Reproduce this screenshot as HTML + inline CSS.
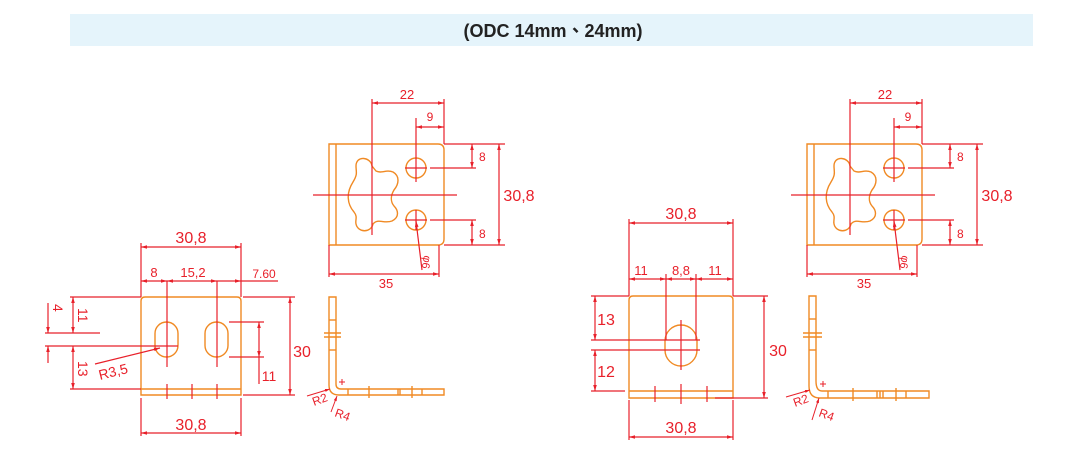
<!DOCTYPE html>
<html><head><meta charset="utf-8"><style>
html,body{margin:0;padding:0;background:#fff;}
svg{display:block}
</style></head><body>
<svg width="1066" height="463" viewBox="0 0 1066 463" xmlns="http://www.w3.org/2000/svg" font-family="Liberation Sans, sans-serif">
<defs>
<marker id="a" viewBox="0 0 10 10" refX="10" refY="5" markerWidth="7" markerHeight="5" orient="auto-start-reverse"><path d="M0,2 L10,5 L0,8z" fill="#e8202a"/></marker>
</defs>
<rect x="70" y="14" width="963" height="32" fill="#e5f4fb"/>
<text x="553" y="37" text-anchor="middle" font-size="18" font-weight="bold" fill="#222" font-family="Liberation Sans, Noto Sans CJK TC, sans-serif">(ODC 14mm、24mm)</text>

<!-- ===== LEFT FRONT VIEW ===== -->
<g fill="none" stroke-width="1.2">
<g stroke="#f08a24" stroke-width="1.4">
<path d="M145,297 H237 Q241,297 241,301 V395 H141 V301 Q141,297 145,297Z"/>
<line x1="141" y1="389" x2="241" y2="389"/>
<rect x="155" y="322" width="23" height="35" rx="11.5"/>
<rect x="205" y="322" width="23" height="35" rx="11.5"/>
</g>
<g stroke="#e8202a">
<line x1="167" y1="281" x2="167" y2="312"/><line x1="217" y1="281" x2="217" y2="312"/>
<line x1="167" y1="312" x2="167" y2="367"/><line x1="217" y1="312" x2="217" y2="367"/>
<line x1="167" y1="384" x2="167" y2="399"/><line x1="192" y1="384" x2="192" y2="399"/><line x1="217" y1="384" x2="217" y2="399"/>
<line x1="141" y1="243" x2="141" y2="297"/><line x1="241" y1="243" x2="241" y2="297"/>
<line x1="141" y1="247" x2="241" y2="247" marker-start="url(#a)" marker-end="url(#a)"/>
<line x1="141" y1="281" x2="167" y2="281" marker-start="url(#a)" marker-end="url(#a)"/>
<line x1="167" y1="281" x2="217" y2="281" marker-start="url(#a)" marker-end="url(#a)"/>
<line x1="217" y1="281" x2="241" y2="281" marker-end="url(#a)"/>
<line x1="241" y1="281" x2="278" y2="281"/>
<line x1="45" y1="333" x2="100" y2="333"/><line x1="45" y1="346" x2="178" y2="346"/>
<line x1="70" y1="297" x2="141" y2="297"/><line x1="70" y1="389" x2="141" y2="389"/>
<line x1="48" y1="303" x2="48" y2="333" marker-end="url(#a)"/>
<line x1="48" y1="363" x2="48" y2="346" marker-end="url(#a)"/>
<line x1="73" y1="297" x2="73" y2="333" marker-start="url(#a)" marker-end="url(#a)"/>
<line x1="73" y1="346" x2="73" y2="389" marker-start="url(#a)" marker-end="url(#a)"/>
<line x1="95" y1="364" x2="160" y2="348" marker-end="url(#a)"/>
<line x1="229" y1="322" x2="264" y2="322"/><line x1="229" y1="357" x2="264" y2="357"/>
<line x1="259" y1="322" x2="259" y2="357" marker-start="url(#a)" marker-end="url(#a)"/>
<line x1="259" y1="357" x2="259" y2="384"/>
<line x1="243" y1="297" x2="295" y2="297"/><line x1="243" y1="395" x2="295" y2="395"/>
<line x1="290" y1="297" x2="290" y2="395" marker-start="url(#a)" marker-end="url(#a)"/>
<line x1="141" y1="398" x2="141" y2="436"/><line x1="241" y1="398" x2="241" y2="436"/>
<line x1="141" y1="433" x2="241" y2="433" marker-start="url(#a)" marker-end="url(#a)"/>
</g>
</g>
<g fill="#e8202a" font-size="16">
<text x="191" y="243" text-anchor="middle">30,8</text>
<text x="191" y="430" text-anchor="middle">30,8</text>
<text x="302" y="357" text-anchor="middle">30</text>
<text x="154" y="277" text-anchor="middle" font-size="13">8</text>
<text x="193" y="277" text-anchor="middle" font-size="13">15,2</text>
<text x="264" y="278" text-anchor="middle" font-size="12">7.60</text>
<text x="269" y="381" text-anchor="middle" font-size="14">11</text>
<text transform="translate(53,304) rotate(90)" font-size="14">4</text>
<text transform="translate(78,308) rotate(90)" font-size="14">11</text>
<text transform="translate(78,361) rotate(90)" font-size="14">13</text>
<text transform="translate(100,380) rotate(-14)" font-size="14">R3,5</text>
</g>

<!-- side view 1 -->
<g fill="none" stroke="#f08a24" stroke-width="1.4">
<path d="M329,297 H336 V384 Q336,389 341,389 H444 V395 H339 Q329,395 329,385 Z"/>
<line x1="324" y1="333" x2="341" y2="333"/><line x1="324" y1="337" x2="341" y2="337"/>
<line x1="329" y1="320" x2="336" y2="320"/><line x1="329" y1="350" x2="336" y2="350"/>
<line x1="348" y1="389" x2="348" y2="395"/><line x1="369" y1="386" x2="369" y2="398"/>
<line x1="398" y1="389" x2="398" y2="395"/><line x1="400" y1="389" x2="400" y2="395"/>
<line x1="412" y1="386" x2="412" y2="398"/><line x1="422" y1="389" x2="422" y2="395"/>
</g>
<g stroke="#e8202a" stroke-width="1" fill="none">
<line x1="307" y1="396" x2="330" y2="389" marker-end="url(#a)"/>
<line x1="331" y1="412" x2="337" y2="396" marker-end="url(#a)"/>
<line x1="339" y1="382" x2="345" y2="382"/><line x1="342" y1="379" x2="342" y2="385"/>
</g>
<g fill="#e8202a" font-size="12">
<text transform="translate(314,406) rotate(-20)">R2</text>
<text transform="translate(334,416) rotate(20)">R4</text>
</g>

<!-- ===== TOP VIEW (template) ===== -->
<g id="tv">
<g fill="none" stroke-width="1.2">
<g stroke="#f08a24" stroke-width="1.4">
<path d="M329,144 H438 Q444,144 444,150 V239 Q444,245 438,245 H329 Z"/>
<line x1="336" y1="144" x2="336" y2="245"/>
<circle cx="416" cy="168" r="10"/><circle cx="416" cy="220" r="10"/>
<path d="M372,166 C371,157 356,155 356,166 C356,172 358,174 353,182 C346,193 347,204 354,212 C358,217 355,220 356,224 C358,233 371,233 373,224 C378,218 384,224 392,221 C400,217 398,210 394,206 C390,201 391,195 394,190 C399,184 400,176 393,172 C386,169 382,174 376,171 Z"/>
</g>
<g stroke="#e8202a">
<line x1="313" y1="195" x2="457" y2="195"/>
<line x1="372" y1="99" x2="372" y2="235"/>
<line x1="444" y1="99" x2="444" y2="144"/>
<line x1="372" y1="103" x2="444" y2="103" marker-start="url(#a)" marker-end="url(#a)"/>
<line x1="416" y1="118" x2="416" y2="182"/><line x1="416" y1="210" x2="416" y2="230"/>
<line x1="405" y1="168" x2="427" y2="168"/><line x1="405" y1="220" x2="427" y2="220"/>
<line x1="416" y1="127" x2="444" y2="127" marker-start="url(#a)" marker-end="url(#a)"/>
<line x1="444" y1="144" x2="505" y2="144"/><line x1="444" y1="245" x2="505" y2="245"/>
<line x1="430" y1="168" x2="476" y2="168"/><line x1="430" y1="220" x2="476" y2="220"/>
<line x1="472" y1="144" x2="472" y2="168" marker-start="url(#a)" marker-end="url(#a)"/>
<line x1="472" y1="220" x2="472" y2="245" marker-start="url(#a)" marker-end="url(#a)"/>
<line x1="499" y1="144" x2="499" y2="245" marker-start="url(#a)" marker-end="url(#a)"/>
<line x1="329" y1="245" x2="329" y2="277"/><line x1="439" y1="245" x2="439" y2="277"/>
<line x1="329" y1="274" x2="439" y2="274" marker-start="url(#a)" marker-end="url(#a)"/>
<line x1="422" y1="270" x2="416" y2="221" marker-end="url(#a)"/>
</g>
</g>
<g fill="#e8202a">
<text x="407" y="99" text-anchor="middle" font-size="13">22</text>
<text x="430" y="121" text-anchor="middle" font-size="12">9</text>
<text x="479" y="161" font-size="12">8</text>
<text x="479" y="238" font-size="12">8</text>
<text x="519" y="201" text-anchor="middle" font-size="16">30,8</text>
<text x="386" y="288" text-anchor="middle" font-size="13">35</text>
<text transform="translate(424,255) rotate(100)" font-size="11">φ6</text>
</g>
</g>
<use href="#tv" transform="translate(478,0)"/>

<!-- ===== RIGHT FRONT VIEW ===== -->
<g fill="none" stroke-width="1.2">
<g stroke="#f08a24" stroke-width="1.4">
<path d="M633,296 H729 Q733,296 733,300 V398 H629 V300 Q629,296 633,296Z"/>
<line x1="629" y1="391" x2="733" y2="391"/>
<rect x="665" y="325" width="32" height="41" rx="16"/>
</g>
<g stroke="#e8202a">
<line x1="629" y1="219" x2="629" y2="296"/><line x1="733" y1="219" x2="733" y2="296"/>
<line x1="629" y1="223" x2="733" y2="223" marker-start="url(#a)" marker-end="url(#a)"/>
<line x1="666" y1="274" x2="666" y2="340"/><line x1="696" y1="274" x2="696" y2="340"/>
<line x1="629" y1="279" x2="666" y2="279" marker-start="url(#a)" marker-end="url(#a)"/>
<line x1="666" y1="279" x2="696" y2="279" marker-start="url(#a)" marker-end="url(#a)"/>
<line x1="696" y1="279" x2="733" y2="279" marker-start="url(#a)" marker-end="url(#a)"/>
<line x1="591" y1="340" x2="700" y2="340"/><line x1="591" y1="350" x2="700" y2="350"/>
<line x1="681" y1="320" x2="681" y2="370"/>
<line x1="591" y1="296" x2="629" y2="296"/><line x1="591" y1="391" x2="625" y2="391"/>
<line x1="595" y1="296" x2="595" y2="340" marker-start="url(#a)" marker-end="url(#a)"/>
<line x1="595" y1="350" x2="595" y2="391" marker-start="url(#a)" marker-end="url(#a)"/>
<line x1="733" y1="296" x2="768" y2="296"/><line x1="715" y1="398" x2="768" y2="398"/>
<line x1="764" y1="296" x2="764" y2="398" marker-start="url(#a)" marker-end="url(#a)"/>
<line x1="655" y1="386" x2="655" y2="402"/><line x1="681" y1="384" x2="681" y2="404"/><line x1="707" y1="386" x2="707" y2="402"/>
<line x1="629" y1="400" x2="629" y2="440"/><line x1="733" y1="400" x2="733" y2="440"/>
<line x1="629" y1="437" x2="733" y2="437" marker-start="url(#a)" marker-end="url(#a)"/>
</g>
</g>
<g fill="#e8202a">
<text x="681" y="219" text-anchor="middle" font-size="16">30,8</text>
<text x="681" y="433" text-anchor="middle" font-size="16">30,8</text>
<text x="778" y="356" text-anchor="middle" font-size="16">30</text>
<text x="641" y="275" text-anchor="middle" font-size="13">11</text>
<text x="681" y="275" text-anchor="middle" font-size="13">8,8</text>
<text x="715" y="275" text-anchor="middle" font-size="13">11</text>
<text x="606" y="325" text-anchor="middle" font-size="16">13</text>
<text x="606" y="377" text-anchor="middle" font-size="16">12</text>
</g>

<!-- side view 2 -->
<g fill="none" stroke="#f08a24" stroke-width="1.4">
<path d="M809,296 H816 V381 Q816,391 822,391 H929 V398 H820 Q809,398 809,386 Z"/>
<line x1="803" y1="333" x2="822" y2="333"/><line x1="803" y1="337" x2="822" y2="337"/>
<line x1="809" y1="319" x2="816" y2="319"/><line x1="809" y1="350" x2="816" y2="350"/>
<line x1="828" y1="391" x2="828" y2="398"/><line x1="853" y1="388" x2="853" y2="401"/>
<line x1="877" y1="391" x2="877" y2="398"/><line x1="880" y1="391" x2="880" y2="398"/><line x1="883" y1="391" x2="883" y2="398"/>
<line x1="896" y1="388" x2="896" y2="401"/><line x1="906" y1="391" x2="906" y2="398"/>
</g>
<g stroke="#e8202a" stroke-width="1" fill="none">
<line x1="786" y1="397" x2="810" y2="390" marker-end="url(#a)"/>
<line x1="812" y1="420" x2="819" y2="398" marker-end="url(#a)"/>
<line x1="820" y1="384" x2="826" y2="384"/><line x1="823" y1="381" x2="823" y2="387"/>
</g>
<g fill="#e8202a" font-size="12">
<text transform="translate(795,407) rotate(-20)">R2</text>
<text transform="translate(818,416) rotate(20)">R4</text>
</g>
</svg>
</body></html>
